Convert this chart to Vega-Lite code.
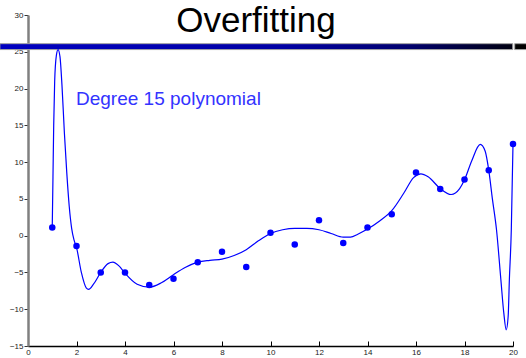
{
  "$schema": "https://vega.github.io/schema/vega-lite/v6.json",
  "width": 485,
  "height": 331,
  "autosize": {"type": "none"},
  "padding": {"left": 28, "top": 15, "right": 13, "bottom": 12},
  "background": "white",
  "config": {
    "view": {"stroke": null},
    "font": "Liberation Sans",
    "axisX": {"domainColor": "#000000", "domainWidth": 1.5, "tickColor": "#000000", "tickSize": -5, "tickWidth": 1, "labelFontSize": 8, "labelColor": "#222222", "labelPadding": 7, "labelFlush": false, "grid": false, "values": [0, 2, 4, 6, 8, 10, 12, 14, 16, 18, 20]},
    "axisY": {"domainColor": "#808080", "domainWidth": 2.5, "tickColor": "#333333", "tickSize": 4, "tickWidth": 1, "labelFontSize": 8, "labelColor": "#222222", "labelPadding": 1, "labelFlush": false, "grid": false, "values": [-15, -10, -5, 0, 5, 10, 15, 20, 25, 30]}
  },
  "datasets": {
    "curve": [
      {"x": 1.0, "y": 1.1}, {"x": 1.03, "y": 8}, {"x": 1.06, "y": 15}, {"x": 1.1, "y": 21}, {"x": 1.17, "y": 24.5}, {"x": 1.24, "y": 25.3}, {"x": 1.32, "y": 24.3}, {"x": 1.4, "y": 20.5}, {"x": 1.5, "y": 14}, {"x": 1.6, "y": 8.5}, {"x": 1.7, "y": 4}, {"x": 1.8, "y": 1}, {"x": 1.9, "y": -0.6}, {"x": 2.0, "y": -1.6}, {"x": 2.2, "y": -5}, {"x": 2.4, "y": -7.1}, {"x": 2.5, "y": -7.3}, {"x": 2.7, "y": -6.6}, {"x": 3.0, "y": -5}, {"x": 3.3, "y": -3.8}, {"x": 3.5, "y": -3.6}, {"x": 3.75, "y": -4.1}, {"x": 4.0, "y": -5.1}, {"x": 4.5, "y": -6.6}, {"x": 5.0, "y": -7.0}, {"x": 5.5, "y": -6.4}, {"x": 6.0, "y": -5.3}, {"x": 6.5, "y": -4.3}, {"x": 7.0, "y": -3.6}, {"x": 7.5, "y": -3.35}, {"x": 8.0, "y": -3.2}, {"x": 8.5, "y": -2.7}, {"x": 9.0, "y": -1.9}, {"x": 9.5, "y": -0.7}, {"x": 10.0, "y": 0.3}, {"x": 10.5, "y": 0.8}, {"x": 11.0, "y": 1.0}, {"x": 11.5, "y": 1.0}, {"x": 12.0, "y": 0.8}, {"x": 12.5, "y": 0.3}, {"x": 13.0, "y": -0.2}, {"x": 13.3, "y": -0.2}, {"x": 13.6, "y": 0.2}, {"x": 14.0, "y": 0.9}, {"x": 14.5, "y": 2.0}, {"x": 15.0, "y": 3.4}, {"x": 15.5, "y": 5.8}, {"x": 15.9, "y": 7.9}, {"x": 16.2, "y": 8.4}, {"x": 16.5, "y": 8.0}, {"x": 17.0, "y": 6.4}, {"x": 17.45, "y": 5.6}, {"x": 17.8, "y": 6.4}, {"x": 18.0, "y": 7.6}, {"x": 18.3, "y": 10.2}, {"x": 18.65, "y": 12.4}, {"x": 18.85, "y": 11.5}, {"x": 19.0, "y": 8.9}, {"x": 19.15, "y": 5}, {"x": 19.32, "y": 0.8}, {"x": 19.5, "y": -6}, {"x": 19.62, "y": -10.5}, {"x": 19.72, "y": -12.8}, {"x": 19.8, "y": -11}, {"x": 19.85, "y": -6}, {"x": 19.93, "y": 0.8}, {"x": 20.0, "y": 12.46}
    ],
    "points": [
      {"x": 1, "y": 1.1}, {"x": 2, "y": -1.4}, {"x": 3, "y": -5.0}, {"x": 4, "y": -5.0}, {"x": 5, "y": -6.7}, {"x": 6, "y": -5.85}, {"x": 7, "y": -3.6}, {"x": 8, "y": -2.2}, {"x": 9, "y": -4.25}, {"x": 10, "y": 0.4}, {"x": 11, "y": -1.2}, {"x": 12, "y": 2.1}, {"x": 13, "y": -1.0}, {"x": 14, "y": 1.1}, {"x": 15, "y": 2.9}, {"x": 16, "y": 8.6}, {"x": 17, "y": 6.35}, {"x": 18, "y": 7.65}, {"x": 19, "y": 8.9}, {"x": 20, "y": 12.46}
    ]
  },
  "layer": [
    {
      "data": {"values": [{"x": -1.16, "x2": 19.99, "y": 25.3, "y2": 26.1}]},
      "mark": {"type": "rect", "stroke": "#a0a0a0", "strokeWidth": 1, "fill": {"gradient": "linear", "x1": 0, "x2": 1, "y1": 0, "y2": 0, "stops": [{"offset": 0, "color": "#0000c0"}, {"offset": 0.55, "color": "#0000a4"}, {"offset": 0.8, "color": "#00006c"}, {"offset": 1, "color": "#000010"}]}},
      "encoding": {
        "x": {"field": "x", "type": "quantitative", "scale": {"domain": [0, 20]}, "title": null},
        "x2": {"field": "x2"},
        "y": {"field": "y", "type": "quantitative", "scale": {"domain": [-15, 30]}, "title": null},
        "y2": {"field": "y2"}
      }
    },
    {
      "data": {"values": [{"x": 20.07, "x2": 20.56, "y": 25.3, "y2": 26.1}]},
      "mark": {"type": "rect", "fill": "#000000", "stroke": "#a0a0a0", "strokeWidth": 1},
      "encoding": {
        "x": {"field": "x", "type": "quantitative", "title": null},
        "x2": {"field": "x2"},
        "y": {"field": "y", "type": "quantitative", "title": null},
        "y2": {"field": "y2"}
      }
    },
    {
      "data": {"name": "curve"},
      "mark": {"type": "line", "interpolate": "monotone", "color": "#0000ff", "strokeWidth": 1.2},
      "encoding": {
        "x": {"field": "x", "type": "quantitative", "title": null},
        "y": {"field": "y", "type": "quantitative", "title": null}
      }
    },
    {
      "data": {"name": "points"},
      "mark": {"type": "point", "filled": true, "color": "#0000ff", "size": 42, "opacity": 1},
      "encoding": {
        "x": {"field": "x", "type": "quantitative", "title": null},
        "y": {"field": "y", "type": "quantitative", "title": null}
      }
    },
    {
      "data": {"values": [
        {"x": 9.4, "y": 27.7, "label": "Overfitting"}
      ]},
      "mark": {"type": "text", "fontSize": 35, "align": "center", "baseline": "alphabetic", "color": "#000000", "font": "Liberation Sans"},
      "encoding": {
        "x": {"field": "x", "type": "quantitative", "title": null},
        "y": {"field": "y", "type": "quantitative", "title": null},
        "text": {"field": "label"}
      }
    },
    {
      "data": {"values": [
        {"x": 1.98, "y": 17.8, "label": "Degree 15 polynomial"}
      ]},
      "mark": {"type": "text", "fontSize": 19, "align": "left", "baseline": "alphabetic", "color": "#3333ff", "font": "Liberation Sans"},
      "encoding": {
        "x": {"field": "x", "type": "quantitative", "title": null},
        "y": {"field": "y", "type": "quantitative", "title": null},
        "text": {"field": "label"}
      }
    }
  ]
}
